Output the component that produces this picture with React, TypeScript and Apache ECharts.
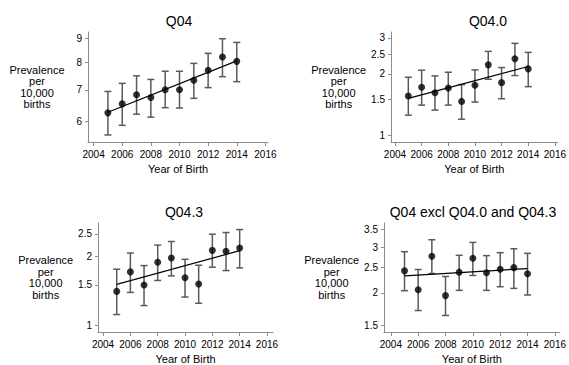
import React, { useEffect, useRef } from "react";
import * as echarts from "echarts";

const years = [2005, 2006, 2007, 2008, 2009, 2010, 2011, 2012, 2013, 2014];
const xTicks = [2004, 2006, 2008, 2010, 2012, 2014, 2016];

const titles = ["Q04", "Q04.0", "Q04.3", "Q04 excl Q04.0 and Q04.3"];

// Panel 1: Q04
const q04 = [6.26, 6.54, 6.84, 6.75, 7.01, 7.01, 7.34, 7.71, 8.22, 8.05];
const q04Lo = [5.62, 5.89, 6.22, 6.13, 6.42, 6.41, 6.72, 7.08, 7.47, 7.29];
const q04Hi = [6.95, 7.23, 7.5, 7.37, 7.67, 7.67, 7.97, 8.37, 8.99, 8.83];
const q04Fit = [6.28, 8.07];
const q04Ticks = [6, 7, 8, 9];

// Panel 2: Q04.0
const q040 = [1.557, 1.719, 1.618, 1.706, 1.466, 1.758, 2.215, 1.812, 2.372, 2.117];
const q040Lo = [1.255, 1.406, 1.329, 1.406, 1.199, 1.455, 1.882, 1.511, 1.963, 1.732];
const q040Hi = [1.926, 2.085, 1.955, 2.038, 1.772, 2.093, 2.578, 2.149, 2.823, 2.549];
const q040Fit = [1.517, 2.174];
const q040Ticks = [1, 1.5, 2, 2.5, 3];

// Panel 3: Q04.3
const q043 = [1.403, 1.707, 1.495, 1.88, 1.963, 1.608, 1.51, 2.119, 2.098, 2.169];
const q043Lo = [1.112, 1.389, 1.217, 1.566, 1.64, 1.326, 1.245, 1.789, 1.73, 1.777];
const q043Hi = [1.753, 2.063, 1.818, 2.234, 2.317, 1.937, 1.825, 2.493, 2.535, 2.612];
const q043Fit = [1.505, 2.112];
const q043Ticks = [1, 1.5, 2, 2.5];

// Panel 4: Q04 excl Q04.0 and Q04.3
const q04x = [2.43, 2.057, 2.764, 1.952, 2.402, 2.716, 2.388, 2.466, 2.5, 2.367];
const q04xLo = [2.039, 1.711, 2.373, 1.638, 2.045, 2.333, 2.045, 2.112, 2.081, 1.963];
const q04xHi = [2.879, 2.459, 3.199, 2.312, 2.788, 3.125, 2.78, 2.854, 2.955, 2.837];
const q04xFit = [2.326, 2.48];
const q04xTicks = [1.5, 2, 2.5, 3, 3.5];

const FONT = "'Liberation Sans', Arial, sans-serif";

const panels = [
  { title: titles[0], mid: q04, lo: q04Lo, hi: q04Hi, fit: q04Fit, ticks: q04Ticks,
    grid: { left: 88, top: 32, width: 180, height: 110 }, xr: [2003.61, 2016.18], yr: [5.43, 9.29], titleX: 179, titleY: 14 },
  { title: titles[1], mid: q040, lo: q040Lo, hi: q040Hi, fit: q040Fit, ticks: q040Ticks,
    grid: { left: 391, top: 32, width: 171, height: 110 }, xr: [2003.7, 2016.2], yr: [0.927, 3.21], titleX: 488, titleY: 14 },
  { title: titles[2], mid: q043, lo: q043Lo, hi: q043Hi, fit: q043Fit, ticks: q043Ticks,
    grid: { left: 98, top: 223, width: 175, height: 110 }, xr: [2003.63, 2016.44], yr: [0.933, 2.79], titleX: 184, titleY: 205 },
  { title: titles[3], mid: q04x, lo: q04xLo, hi: q04xHi, fit: q04xFit, ticks: q04xTicks,
    grid: { left: 384, top: 223, width: 179, height: 110 }, xr: [2003.5, 2016.36], yr: [1.415, 3.71], titleX: 473, titleY: 205 },
];

export default function App() {
  const ref = useRef<HTMLDivElement>(null);
  useEffect(() => {
    if (!ref.current) return;
    const chart = echarts.init(ref.current, null, { renderer: "svg" });
    const axisGray = "#8c8c8c";
    const option: any = {
      animation: false,
      backgroundColor: "#ffffff",
      textStyle: { fontFamily: FONT },
      title: panels.map((p) => ({
        text: p.title,
        left: p.titleX,
        top: p.titleY,
        textAlign: "center",
        padding: 0,
        textStyle: { fontFamily: FONT, fontSize: 14, fontWeight: "normal", color: "#000" },
      })),
      grid: panels.map((p) => ({ ...p.grid, containLabel: false })),
      xAxis: panels.map((p, i) => ({
        type: "value",
        gridIndex: i,
        min: p.xr[0],
        max: p.xr[1],
        splitLine: { show: false },
        axisLine: { show: true, lineStyle: { color: axisGray, width: 1 } },
        axisTick: { show: true, length: 4, customValues: xTicks, lineStyle: { color: axisGray } },
        axisLabel: {
          customValues: xTicks,
          formatter: (v: number) => String(Math.round(v)),
          fontSize: 10,
          color: "#000",
          margin: 7,
          fontFamily: FONT,
        },
        name: "Year of Birth",
        nameLocation: "middle",
        nameGap: 21,
        nameTextStyle: { fontSize: 11, color: "#000", fontFamily: FONT },
      })),
      yAxis: panels.map((p, i) => ({
        type: "log",
        logBase: 10,
        gridIndex: i,
        min: p.yr[0],
        max: p.yr[1],
        splitLine: { show: false },
        axisLine: { show: true, lineStyle: { color: axisGray, width: 1 } },
        axisTick: { show: true, length: 3, customValues: p.ticks, lineStyle: { color: axisGray } },
        axisLabel: {
          customValues: p.ticks,
          formatter: (v: number) => String(Math.round(v * 10) / 10),
          fontSize: 10,
          color: "#000",
          margin: 6,
          fontFamily: FONT,
        },
        name: "Prevalence\nper\n10,000\nbirths",
        nameLocation: "middle",
        nameRotate: 0,
        nameGap: 51,
        nameTextStyle: { fontSize: 11, color: "#000", align: "center", lineHeight: 11.5, fontFamily: FONT },
      })),
      series: panels.flatMap((p, i) => [
        {
          type: "custom",
          xAxisIndex: i,
          yAxisIndex: i,
          data: years.map((y, k) => [y, p.lo[k], p.hi[k]]),
          encode: { x: 0, y: [1, 2] },
          renderItem: (params: any, api: any) => {
            const x = api.value(0);
            const a = api.coord([x, api.value(1)]);
            const b = api.coord([x, api.value(2)]);
            const w = 3.5;
            const st = { stroke: "#5a5a5a", lineWidth: 1.5 };
            return {
              type: "group",
              children: [
                { type: "line", shape: { x1: a[0], y1: a[1], x2: b[0], y2: b[1] }, style: st },
                { type: "line", shape: { x1: a[0] - w, y1: a[1], x2: a[0] + w, y2: a[1] }, style: st },
                { type: "line", shape: { x1: b[0] - w, y1: b[1], x2: b[0] + w, y2: b[1] }, style: st },
              ],
            };
          },
          z: 2,
        },
        {
          type: "line",
          xAxisIndex: i,
          yAxisIndex: i,
          data: [[years[0], p.fit[0]], [years[years.length - 1], p.fit[1]]],
          symbol: "none",
          lineStyle: { color: "#000", width: 1.2 },
          z: 3,
        },
        {
          type: "scatter",
          xAxisIndex: i,
          yAxisIndex: i,
          data: years.map((y, k) => [y, p.mid[k]]),
          symbol: "circle",
          symbolSize: 7,
          itemStyle: { color: "#000" },
          z: 4,
        },
      ]),
    };
    chart.setOption(option);
    return () => chart.dispose();
  }, []);
  return <div ref={ref} style={{ width: 569, height: 365, position: "absolute", left: 0, top: 0 }} />;
}
